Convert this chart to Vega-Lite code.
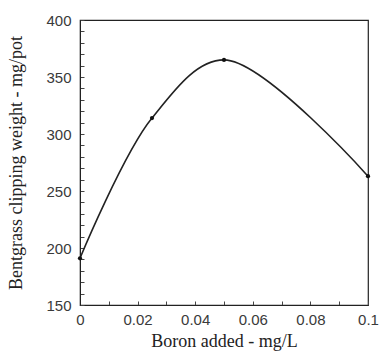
{
  "$schema": "https://vega.github.io/schema/vega-lite/v6.json",
  "autosize": "none",
  "padding": {"left": 80, "top": 20, "right": 11, "bottom": 57},
  "width": 288,
  "height": 285,
  "background": "white",
  "config": {
    "view": {"stroke": "#222", "strokeWidth": 1.2},
    "axis": {
      "grid": false,
      "domainColor": "#222",
      "tickColor": "#444",
      "labelFont": "Liberation Sans",
      "labelFontSize": 15,
      "labelColor": "#3a3a3a",
      "labelOverlap": false,
      "titleFont": "Liberation Serif",
      "titleFontSize": 18,
      "titleFontWeight": "normal",
      "titleColor": "#222"
    }
  },
  "data": {
    "values": [
      {"boron": 0, "weight": 191},
      {"boron": 0.025, "weight": 314},
      {"boron": 0.05, "weight": 365},
      {"boron": 0.1, "weight": 263}
    ]
  },
  "encoding": {
    "x": {
      "field": "boron", "type": "quantitative",
      "scale": {"domain": [0, 0.1], "nice": false},
      "axis": {
        "title": "Boron added - mg/L",
        "values": [0, 0.01, 0.02, 0.03, 0.04, 0.05, 0.06, 0.07, 0.08, 0.09, 0.1],
        "labelExpr": "abs(datum.value*50 - round(datum.value*50)) < 0.001 ? (datum.value == 0 ? '0' : format(datum.value, '~g')) : ''",
        "labelOverlap": false,
        "tickSize": -4,
        "labelPadding": 11,
        "titlePadding": 5,
        "labelFlush": false
      }
    },
    "y": {
      "field": "weight", "type": "quantitative",
      "scale": {"domain": [150, 400], "nice": false, "zero": false},
      "axis": {
        "title": "Bentgrass clipping weight - mg/pot",
        "values": [150, 160, 170, 180, 190, 200, 210, 220, 230, 240, 250, 260, 270, 280, 290, 300, 310, 320, 330, 340, 350, 360, 370, 380, 390, 400],
        "labelExpr": "datum.value % 50 == 0 ? format(datum.value, 'd') : ''",
        "labelOverlap": false,
        "labelBound": false,
        "tickSize": -4,
        "labelPadding": 13,
        "titlePadding": 20,
        "labelFlush": false
      }
    }
  },
  "layer": [
    {
      "mark": {"type": "line", "interpolate": "catmull-rom", "color": "#222", "strokeWidth": 1.6}
    },
    {
      "mark": {"type": "point", "filled": true, "color": "#111", "size": 18, "opacity": 1}
    }
  ]
}
